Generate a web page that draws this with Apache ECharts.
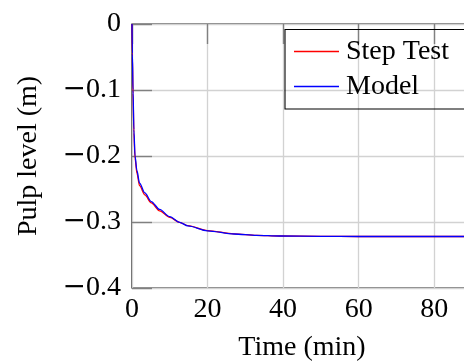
<!DOCTYPE html>
<html>
<head>
<meta charset="utf-8">
<script src="https://cdn.jsdelivr.net/npm/echarts@6/dist/echarts.min.js"></script>
<style>
  html, body { margin: 0; padding: 0; background: #fff; }
  #chart { width: 464px; height: 363px; }
</style>
</head>
<body>
<div id="chart"></div>
<script>
// Pulp level response to a step change: measured step test vs. fitted model
const timeMin = [0, 0.1, 0.27, 0.5, 0.8, 1.3, 2, 3.4, 5.1, 7.3, 10, 12.6, 14.8, 20, 27, 33, 39, 50, 60, 70, 80, 90];
const stepTest = [0, -0.05, -0.105, -0.165, -0.203, -0.226, -0.245, -0.259, -0.271, -0.283, -0.293, -0.3005, -0.3055, -0.313, -0.318, -0.3202, -0.3212, -0.3218, -0.322, -0.322, -0.322, -0.322];
const model = [0, -0.045, -0.1, -0.16, -0.2, -0.222, -0.241, -0.256, -0.269, -0.281, -0.292, -0.3005, -0.306, -0.3135, -0.3182, -0.3203, -0.3212, -0.3218, -0.322, -0.322, -0.322, -0.322];

const xRange = { min: 0, max: 90, interval: 20 };
const yRange = { min: -0.4, max: 0, interval: 0.1 };

const FONT = '"Liberation Serif", "Times New Roman", serif';
const FS = 28;
const TICK_LEN = 10;

function pairs(xs, ys) { return xs.map((x, i) => [x, ys[i]]); }
function fmtY(v) {
  if (Math.abs(v) < 1e-9) return '0';
  return (v < 0 ? '{m|\u2212}' : '') + Math.abs(v).toFixed(1);
}

// Tick-only axes: shifted into the plot by the tick length so outward ticks end on the frame
function tickAxis(extra) {
  return Object.assign({
    type: 'value',
    axisLine: { show: false },
    axisTick: { show: true, inside: false, length: TICK_LEN, lineStyle: { color: '#808080', width: 1.4 } },
    axisLabel: { show: false },
    splitLine: { show: false }
  }, extra);
}

const chart = echarts.init(document.getElementById('chart'), null, { renderer: 'canvas' });
chart.setOption({
  backgroundColor: '#fff',
  animation: false,
  grid: {
    left: 132, top: 24, right: -8, bottom: 75,
    show: true, borderColor: '#000', borderWidth: 1.2,
    containLabel: false, outerBoundsMode: 'none'
  },
  legend: {
    orient: 'vertical',
    left: 285, top: 29,
    padding: [5, 10, 5, 9],
    itemGap: 0,
    itemWidth: 45, itemHeight: 1.5,
    icon: 'rect',
    backgroundColor: 'transparent',
    textStyle: { fontFamily: FONT, fontSize: FS, color: '#000', lineHeight: 35, padding: [0, 0, 0, 2] },
    data: ['Step Test', 'Model']
  },
  // legend frame, running past the right edge together with the plot frame
  graphic: [{
    type: 'rect', z: 5, silent: true,
    shape: { x: 285, y: 29.5, width: 220, height: 79.5 },
    style: { fill: 'none', stroke: '#000', lineWidth: 1.1 }
  }],
  xAxis: [{
    type: 'value', ...xRange,
    name: 'Time (min)', nameLocation: 'middle', nameGap: 46,
    nameTextStyle: { fontFamily: FONT, fontSize: FS, color: '#000' },
    axisLine: { show: false },
    axisTick: { show: false },
    axisLabel: { fontFamily: FONT, fontSize: FS, color: '#000', margin: 8, showMaxLabel: false },
    splitLine: { show: true, lineStyle: { color: '#d2d2d2', width: 1.3 } }
  },
    tickAxis({ ...xRange, position: 'bottom', offset: -TICK_LEN }),
    tickAxis({ ...xRange, position: 'top', offset: -TICK_LEN })
  ],
  yAxis: [{
    type: 'value', ...yRange,
    name: 'Pulp level (m)', nameLocation: 'middle', nameGap: 89, nameRotate: 90,
    nameTextStyle: { fontFamily: FONT, fontSize: FS, color: '#000' },
    axisLine: { show: false },
    axisTick: { show: false },
    axisLabel: {
      fontFamily: FONT, fontSize: FS, color: '#000', margin: 11, formatter: fmtY,
      rich: { m: { fontFamily: '"DejaVu Serif", serif', fontSize: FS, color: '#000' } }
    },
    splitLine: { show: true, lineStyle: { color: '#d2d2d2', width: 1.3 } }
  },
    tickAxis({ ...yRange, position: 'left', offset: -TICK_LEN }),
    tickAxis({ ...yRange, position: 'right', offset: -TICK_LEN })
  ],
  series: [{
    name: 'Step Test', type: 'line', xAxisIndex: 0, yAxisIndex: 0,
    data: pairs(timeMin, stepTest),
    smooth: 0.3, smoothMonotone: 'x', showSymbol: false, symbol: 'none',
    lineStyle: { color: '#ff0000', width: 1.3 }, itemStyle: { color: '#ff0000' }
  }, {
    name: 'Model', type: 'line', xAxisIndex: 0, yAxisIndex: 0,
    data: pairs(timeMin, model),
    smooth: 0.3, smoothMonotone: 'x', showSymbol: false, symbol: 'none',
    lineStyle: { color: '#0000ff', width: 1.3 }, itemStyle: { color: '#0000ff' }
  }]
});
</script>
</body>
</html>
